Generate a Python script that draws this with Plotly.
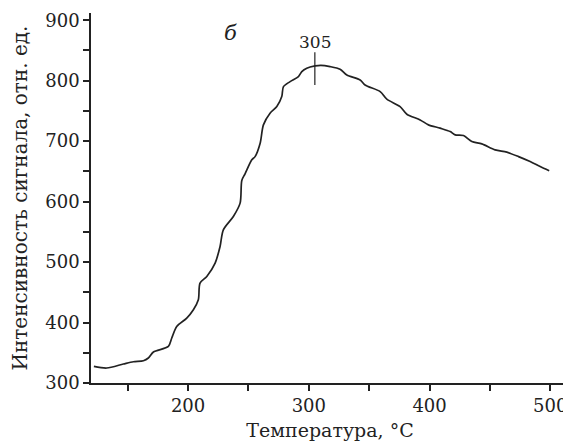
import plotly.graph_objects as go

# температура, °C
temp = [122, 132.6, 146.4, 154.7, 163, 167.1, 171.3, 183.7, 186.5, 190.6, 198.9,
        204.4, 208.5, 209.9, 215.5, 222.4, 226.5, 229.2, 237.5, 243.1, 244.5,
        247.2, 252.8, 255.5, 259.7, 262.4, 267.9, 273.5, 277.6, 279, 284.5,
        291.4, 294.2, 298.3, 305.2, 310, 317.6, 325.9, 331.5, 342.5, 346.6,
        359.1, 364.6, 375.6, 381.2, 392.2, 399.1, 408.8, 417.1, 421.2, 428.1,
        435, 443.3, 454.3, 464, 473.7, 483.3, 491.6, 499.1]
# интенсивность сигнала, отн. ед.
signal = [327.5, 324.8, 331.4, 335.2, 336.9, 341.3, 351.2, 360.5, 374.4, 393.6, 407.4,
          421.2, 437.7, 465.3, 476.2, 498.3, 525.8, 553.4, 575.4, 597.5, 635,
          646, 669.1, 674.5, 696.7, 727, 746.3, 757.2, 773.7, 790.2, 798.5,
          806.8, 815, 820.7, 824.5, 825.5, 823.4, 819, 809.6, 801.3, 793,
          782, 769.4, 757.2, 744.6, 735.2, 727, 721.5, 715.9, 710.4, 709.3,
          699.4, 695.5, 685.6, 681.8, 674.5, 666.3, 658, 650.9]

peak_x = [305, 305]
peak_y = [793, 847]
peak_label = "305"
panel_label = "б"

font_family = "DejaVu Serif"
ink = "#222222"

fig = go.Figure()
fig.add_trace(go.Scatter(x=temp, y=signal, mode="lines",
                         line=dict(color=ink, width=1.7, shape="spline", smoothing=0.8),
                         showlegend=False))
fig.add_trace(go.Scatter(x=peak_x, y=peak_y, mode="lines",
                         line=dict(color=ink, width=1.2), showlegend=False))

fig.add_annotation(x=peak_x[0], y=864, text=peak_label, showarrow=False,
                   font=dict(family=font_family, size=17, color=ink))
fig.add_annotation(x=235, y=879, text="<i>" + panel_label + "</i>", showarrow=False,
                   font=dict(family=font_family, size=21, color=ink))

axis_common = dict(showline=True, linecolor=ink, linewidth=1.5,
                   ticks="outside", ticklen=6, tickwidth=1.5, tickcolor=ink,
                   showgrid=False, zeroline=False, mirror=False, automargin=False,
                   tickfont=dict(family=font_family, size=18, color=ink))
minor_ticks = dict(dtick=50, ticks="outside", ticklen=6, tickwidth=1.5,
                   tickcolor=ink, showgrid=False)

fig.update_xaxes(range=[119.6, 515.5], dtick=100, tick0=0, minor=minor_ticks,
                 title=dict(text="Температура, °C", standoff=10,
                            font=dict(family=font_family, size=19, color=ink)),
                 **axis_common)
fig.update_yaxes(range=[300, 912], dtick=100, tick0=0, minor=minor_ticks,
                 title=dict(text="Интенсивность сигнала, отн. ед.", standoff=12,
                            font=dict(family=font_family, size=20, color=ink)),
                 **axis_common)

# the page body adds 8px around the figure, so the figure is 8px smaller
fig.update_layout(width=563, height=433, plot_bgcolor="white", paper_bgcolor="white",
                  margin=dict(l=83, r=2, t=5, b=58))

fig.write_html("out.html")
